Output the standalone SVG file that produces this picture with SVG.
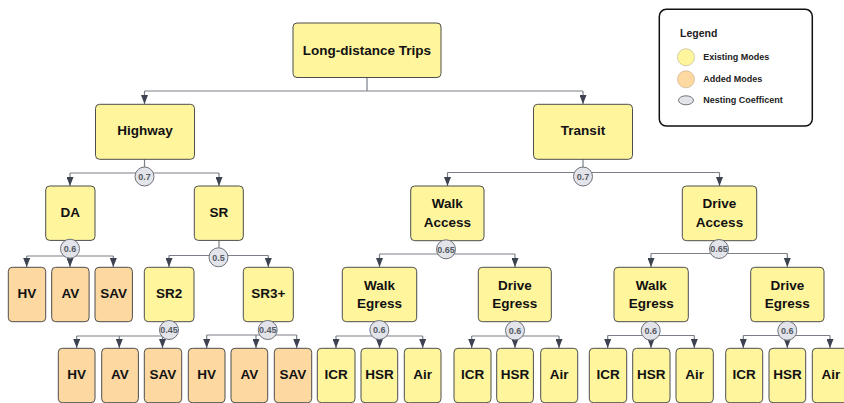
<svg xmlns="http://www.w3.org/2000/svg" width="844" height="403" viewBox="0 0 844 403">
  <style>
    .box { stroke: #4d4d4d; stroke-width: 1; }
    .ex { fill: #fff59d; }
    .add { fill: #fdd9a1; }
    .lbl { font-family: "Liberation Sans", Arial, sans-serif; font-weight: bold; font-size: 13.5px; fill: #111; text-anchor: middle; }
    .coef circle { fill: #e2e4ea; stroke: #6e727a; stroke-width: 1; }
    .coef text { font-family: "Liberation Sans", Arial, sans-serif; font-weight: bold; font-size: 9px; fill: #555a63; text-anchor: middle; }
    .bus { fill: none; stroke: #7a7f88; stroke-width: 1.2; }
    .drop { fill: none; stroke: #7a7f88; stroke-width: 1.2; marker-end: url(#arr); }
    .leg { font-family: "Liberation Sans", Arial, sans-serif; font-weight: bold; font-size: 9px; fill: #222; }
  </style>
  <defs>
    <marker id="arr" viewBox="0 0 10 10" refX="10" refY="5" markerWidth="9" markerHeight="7" markerUnits="userSpaceOnUse" orient="auto" preserveAspectRatio="none">
      <path d="M0,0 L10,5 L0,10 z" fill="#3c4250"/>
    </marker>
  </defs>
  <rect width="844" height="403" fill="#ffffff"/>

  <!-- connectors -->
  <g id="connectors">
    <!-- root -->
    <path class="bus" d="M367,77 V91 M144.5,91 H583"/>
    <path class="drop" d="M144.5,91 V104"/>
    <path class="drop" d="M583,91 V104"/>
    <!-- Highway -->
    <path class="bus" d="M144.5,159 V173 M70,173 H219"/>
    <path class="drop" d="M70,173 V186"/>
    <path class="drop" d="M219,173 V186"/>
    <!-- Transit -->
    <path class="bus" d="M583,159 V172.5 M447.5,172.5 H719.5"/>
    <path class="drop" d="M447.5,172.5 V186"/>
    <path class="drop" d="M719.5,172.5 V186"/>
    <!-- DA -->
    <path class="bus" d="M70,240 V256 M26.7,256 H113.3"/>
    <path class="drop" d="M26.7,256 V267"/>
    <path class="drop" d="M70,256 V267"/>
    <path class="drop" d="M113.3,256 V267"/>
    <!-- SR -->
    <path class="bus" d="M219,240 V255.5 M169,255.5 H268.3"/>
    <path class="drop" d="M169,255.5 V267"/>
    <path class="drop" d="M268.3,255.5 V267"/>
    <!-- SR2 -->
    <path class="bus" d="M169,322 V336 M76.7,336 H169"/>
    <path class="drop" d="M76.7,336 V348"/>
    <path class="drop" d="M119.3,336 V348"/>
    <path class="drop" d="M162.5,336 V348"/>
    <!-- SR3+ -->
    <path class="bus" d="M268.3,322 V335 M206.7,335 H296.7"/>
    <path class="drop" d="M206.7,335 V348"/>
    <path class="drop" d="M256,335 V348"/>
    <path class="drop" d="M296.7,335 V348"/>
    <!-- Walk Access -->
    <path class="bus" d="M447.5,240.7 V254 M379.5,254 H515"/>
    <path class="drop" d="M379.5,254 V267"/>
    <path class="drop" d="M515,254 V267"/>
    <!-- Drive Access -->
    <path class="bus" d="M719.5,240.7 V253.5 M651,253.5 H787.3"/>
    <path class="drop" d="M651,253.5 V267"/>
    <path class="drop" d="M787.3,253.5 V267"/>
    <!-- Walk Egress (walk access) -->
    <path class="bus" d="M379.5,322 V336 M336,336 H422.7"/>
    <path class="drop" d="M336,336 V348"/>
    <path class="drop" d="M379.5,336 V348"/>
    <path class="drop" d="M422.7,336 V348"/>
    <!-- Drive Egress (walk access) -->
    <path class="bus" d="M515,322 V336 M471.7,336 H559"/>
    <path class="drop" d="M471.7,336 V348"/>
    <path class="drop" d="M515,336 V348"/>
    <path class="drop" d="M559,336 V348"/>
    <!-- Walk Egress (drive access) -->
    <path class="bus" d="M651,322 V335.5 M607.7,335.5 H694.3"/>
    <path class="drop" d="M607.7,335.5 V348"/>
    <path class="drop" d="M651,335.5 V348"/>
    <path class="drop" d="M694.3,335.5 V348"/>
    <!-- Drive Egress (drive access) -->
    <path class="bus" d="M787.3,322 V335.5 M743.3,335.5 H830"/>
    <path class="drop" d="M743.3,335.5 V348"/>
    <path class="drop" d="M787.3,335.5 V348"/>
    <path class="drop" d="M830,335.5 V348"/>
  </g>

  <!-- nodes: level 0-1 -->
  <g id="root"><rect class="box ex" x="293" y="23" width="148" height="54.5" rx="4"/><text class="lbl" x="367" y="55">Long-distance Trips</text></g>
  <g id="highway"><rect class="box ex" x="95.5" y="104.3" width="99" height="55" rx="4"/><text class="lbl" x="145" y="134.5">Highway</text></g>
  <g id="transit"><rect class="box ex" x="533.5" y="104.3" width="99" height="55" rx="4"/><text class="lbl" x="583" y="134.5">Transit</text></g>

  <!-- level 2 -->
  <g id="da"><rect class="box ex" x="45.7" y="186" width="49.3" height="54.4" rx="4"/><text class="lbl" x="70.3" y="217">DA</text></g>
  <g id="sr"><rect class="box ex" x="194.3" y="186" width="49" height="54.4" rx="4"/><text class="lbl" x="218.8" y="217">SR</text></g>
  <g id="walk-access"><rect class="box ex" x="410.7" y="186" width="73.3" height="54.7" rx="4"/><text class="lbl" x="447.3" y="208">Walk</text><text class="lbl" x="447.3" y="226.5">Access</text></g>
  <g id="drive-access"><rect class="box ex" x="682.3" y="186" width="74.4" height="54.7" rx="4"/><text class="lbl" x="719.5" y="208">Drive</text><text class="lbl" x="719.5" y="226.5">Access</text></g>

  <!-- level 3 -->
  <g id="da-hv"><rect class="box add" x="8.3" y="267.3" width="37.4" height="54.4" rx="4"/><text class="lbl" x="27" y="297.5">HV</text></g>
  <g id="da-av"><rect class="box add" x="51.7" y="267.3" width="37.4" height="54.4" rx="4"/><text class="lbl" x="70.4" y="297.5">AV</text></g>
  <g id="da-sav"><rect class="box add" x="95" y="267.3" width="37.4" height="54.4" rx="4"/><text class="lbl" x="113.7" y="297.5">SAV</text></g>
  <g id="sr2"><rect class="box ex" x="144.3" y="267.3" width="49.7" height="54.4" rx="4"/><text class="lbl" x="169.2" y="297.5">SR2</text></g>
  <g id="sr3"><rect class="box ex" x="243.3" y="267.3" width="50" height="54.4" rx="4"/><text class="lbl" x="268.3" y="297.5">SR3+</text></g>
  <g id="walk-egress-1"><rect class="box ex" x="342.3" y="267.3" width="74.4" height="54.4" rx="4"/><text class="lbl" x="379.5" y="289.5">Walk</text><text class="lbl" x="379.5" y="308">Egress</text></g>
  <g id="drive-egress-1"><rect class="box ex" x="478.3" y="267.3" width="73" height="54.4" rx="4"/><text class="lbl" x="514.8" y="289.5">Drive</text><text class="lbl" x="514.8" y="308">Egress</text></g>
  <g id="walk-egress-2"><rect class="box ex" x="614" y="267.3" width="74.3" height="54.4" rx="4"/><text class="lbl" x="651.2" y="289.5">Walk</text><text class="lbl" x="651.2" y="308">Egress</text></g>
  <g id="drive-egress-2"><rect class="box ex" x="750.7" y="267.3" width="73.3" height="54.4" rx="4"/><text class="lbl" x="787.3" y="289.5">Drive</text><text class="lbl" x="787.3" y="308">Egress</text></g>

  <!-- level 4: SR2 modes -->
  <g id="sr2-hv"><rect class="box add" x="58.3" y="348.3" width="36.7" height="54.4" rx="4"/><text class="lbl" x="76.7" y="378.5">HV</text></g>
  <g id="sr2-av"><rect class="box add" x="101.7" y="348.3" width="36.7" height="54.4" rx="4"/><text class="lbl" x="120" y="378.5">AV</text></g>
  <g id="sr2-sav"><rect class="box add" x="144.3" y="348.3" width="37.4" height="54.4" rx="4"/><text class="lbl" x="163" y="378.5">SAV</text></g>
  <!-- SR3+ modes -->
  <g id="sr3-hv"><rect class="box add" x="188.3" y="348.3" width="36.7" height="54.4" rx="4"/><text class="lbl" x="206.7" y="378.5">HV</text></g>
  <g id="sr3-av"><rect class="box add" x="231" y="348.3" width="36.7" height="54.4" rx="4"/><text class="lbl" x="249.4" y="378.5">AV</text></g>
  <g id="sr3-sav"><rect class="box add" x="274.3" y="348.3" width="37.4" height="54.4" rx="4"/><text class="lbl" x="293" y="378.5">SAV</text></g>
  <!-- transit modes -->
  <g id="we1-icr"><rect class="box ex" x="317.3" y="348.3" width="37.7" height="54.4" rx="4"/><text class="lbl" x="336.2" y="378.5">ICR</text></g>
  <g id="we1-hsr"><rect class="box ex" x="361" y="348.3" width="36.7" height="54.4" rx="4"/><text class="lbl" x="379.4" y="378.5">HSR</text></g>
  <g id="we1-air"><rect class="box ex" x="404.3" y="348.3" width="36.7" height="54.4" rx="4"/><text class="lbl" x="422.7" y="378.5">Air</text></g>
  <g id="de1-icr"><rect class="box ex" x="454" y="348.3" width="37" height="54.4" rx="4"/><text class="lbl" x="472.5" y="378.5">ICR</text></g>
  <g id="de1-hsr"><rect class="box ex" x="496.7" y="348.3" width="36.7" height="54.4" rx="4"/><text class="lbl" x="515" y="378.5">HSR</text></g>
  <g id="de1-air"><rect class="box ex" x="540.7" y="348.3" width="37" height="54.4" rx="4"/><text class="lbl" x="559.2" y="378.5">Air</text></g>
  <g id="we2-icr"><rect class="box ex" x="589.3" y="348.3" width="37.4" height="54.4" rx="4"/><text class="lbl" x="608" y="378.5">ICR</text></g>
  <g id="we2-hsr"><rect class="box ex" x="632.7" y="348.3" width="37.3" height="54.4" rx="4"/><text class="lbl" x="651.3" y="378.5">HSR</text></g>
  <g id="we2-air"><rect class="box ex" x="676" y="348.3" width="37.3" height="54.4" rx="4"/><text class="lbl" x="694.7" y="378.5">Air</text></g>
  <g id="de2-icr"><rect class="box ex" x="725.7" y="348.3" width="37" height="54.4" rx="4"/><text class="lbl" x="744.2" y="378.5">ICR</text></g>
  <g id="de2-hsr"><rect class="box ex" x="769" y="348.3" width="36.7" height="54.4" rx="4"/><text class="lbl" x="787.4" y="378.5">HSR</text></g>
  <g id="de2-air"><rect class="box ex" x="812.3" y="348.3" width="37" height="54.4" rx="4"/><text class="lbl" x="830.8" y="378.5">Air</text></g>

  <!-- nesting coefficients -->
  <g id="coefficients" class="coef">
    <g><circle cx="144.5" cy="176.5" r="9.5"/><text x="144.5" y="179.7">0.7</text></g>
    <g><circle cx="583" cy="176.5" r="9.5"/><text x="583" y="179.7">0.7</text></g>
    <g><circle cx="70" cy="248.7" r="9.5"/><text x="70" y="251.9">0.6</text></g>
    <g><circle cx="218.5" cy="257.3" r="9.5"/><text x="218.5" y="260.5">0.5</text></g>
    <g><circle cx="446" cy="249.3" r="9.5"/><text x="446" y="252.5">0.65</text></g>
    <g><circle cx="719" cy="249" r="9.5"/><text x="719" y="252.2">0.65</text></g>
    <g><circle cx="169" cy="330" r="9.5"/><text x="169" y="333.2">0.45</text></g>
    <g><circle cx="267.7" cy="330" r="9.5"/><text x="267.7" y="333.2">0.45</text></g>
    <g><circle cx="379.3" cy="330" r="9.5"/><text x="379.3" y="333.2">0.6</text></g>
    <g><circle cx="515" cy="330.5" r="9.5"/><text x="515" y="333.7">0.6</text></g>
    <g><circle cx="650.7" cy="330.7" r="9.5"/><text x="650.7" y="333.9">0.6</text></g>
    <g><circle cx="787.3" cy="330.7" r="9.5"/><text x="787.3" y="333.9">0.6</text></g>
  </g>

  <!-- legend -->
  <g id="legend">
    <rect x="659.3" y="9.3" width="153" height="116.7" rx="7" fill="#ffffff" stroke="#111" stroke-width="1.5"/>
    <text class="leg" x="680" y="37" font-size="10.5" style="font-size:10.5px">Legend</text>
    <circle cx="686" cy="57.3" r="8.5" fill="#fff59d" stroke="#c8c39a" stroke-width="0.8"/>
    <text class="leg" x="703.3" y="60">Existing Modes</text>
    <circle cx="686" cy="79.3" r="8.5" fill="#fdd9a1" stroke="#d4b99a" stroke-width="0.8"/>
    <text class="leg" x="703.3" y="82">Added Modes</text>
    <ellipse cx="686" cy="100.3" rx="7.5" ry="4.5" fill="#e2e4ea" stroke="#55595f" stroke-width="0.8"/>
    <text class="leg" x="703.3" y="103">Nesting Coefficent</text>
  </g>
</svg>
